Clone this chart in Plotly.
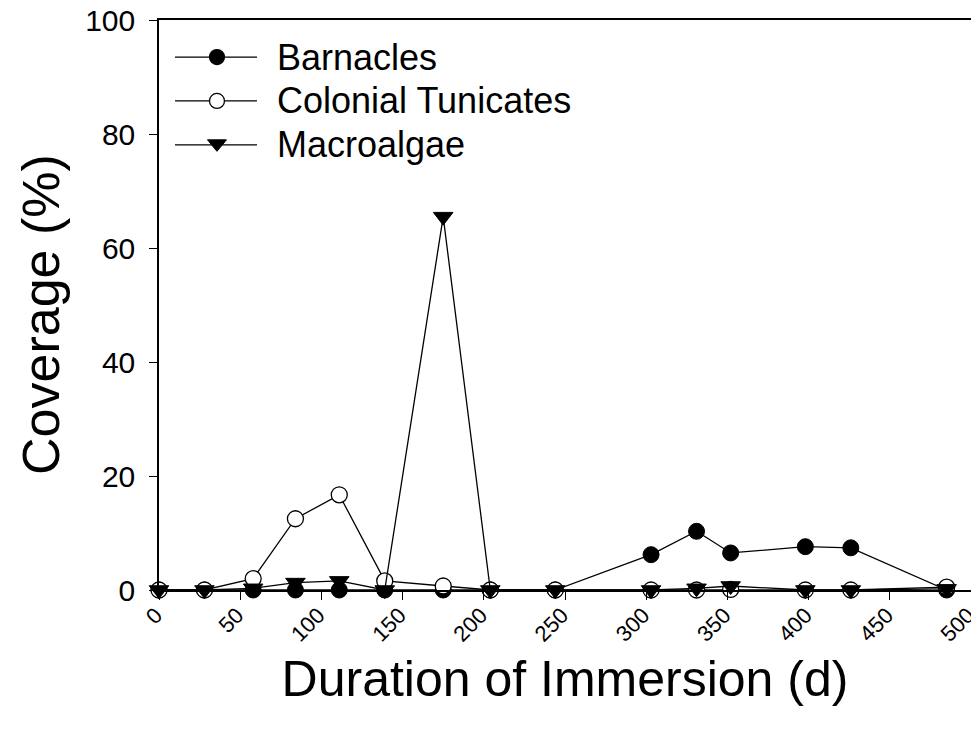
import plotly.graph_objects as go

days = [0, 28, 58, 84, 111, 139, 175, 204, 244, 303, 331, 352, 398, 426, 485]
barnacles = [0, 0, 0, 0, 0, 0, 0, 0, 0, 6.2, 10.3, 6.5, 7.6, 7.4, 0]
tunicates = [0, 0, 2.0, 12.5, 16.7, 1.6, 0.7, 0, 0, 0, 0, 0.1, 0, 0, 0.5]
macroalgae = [0, 0, 0.3, 1.3, 1.6, 0, 65.5, 0, 0, 0, 0.3, 0.7, 0, 0, 0.2]

series_names = ["Barnacles", "Colonial Tunicates", "Macroalgae"]

x_ticks = list(range(0, 501, 50))
y_ticks = list(range(0, 101, 20))

FONT = "Liberation Sans, Arial, sans-serif"

fig = go.Figure()
fig.add_trace(go.Scatter(
    x=days, y=barnacles, name=series_names[0], mode="lines+markers",
    line=dict(color="black", width=1.3),
    marker=dict(symbol="circle", size=16, color="black", line=dict(color="black", width=1)),
    cliponaxis=False))
fig.add_trace(go.Scatter(
    x=days, y=tunicates, name=series_names[1], mode="lines+markers",
    line=dict(color="black", width=1.3),
    marker=dict(symbol="circle", size=16, color="white", line=dict(color="black", width=1.3)),
    cliponaxis=False))
fig.add_trace(go.Scatter(
    x=days, y=macroalgae, name=series_names[2], mode="lines+markers",
    line=dict(color="black", width=1.3),
    marker=dict(symbol="triangle-down", size=17, color="black", line=dict(color="black", width=1)),
    cliponaxis=False))

# Manual legend (layout elements in paper coordinates)
shapes = []
annotations = []
rows_y = [0.935, 0.858, 0.781]
lx0, lx1, lmx, ltx = 0.0197, 0.1207, 0.0714, 0.1429
for i, (name, ry) in enumerate(zip(series_names, rows_y)):
    shapes.append(dict(type="line", xref="paper", yref="paper", x0=lx0, x1=lx1, y0=ry, y1=ry,
                       line=dict(color="black", width=1.3)))
    if i < 2:
        shapes.append(dict(type="circle", xref="paper", yref="paper",
                           xsizemode="pixel", ysizemode="pixel", xanchor=lmx, yanchor=ry,
                           x0=-7.5, x1=7.5, y0=-7.5, y1=7.5,
                           fillcolor="black" if i == 0 else "white",
                           line=dict(color="black", width=1.3)))
    else:
        shapes.append(dict(type="path", xref="paper", yref="paper",
                           xsizemode="pixel", ysizemode="pixel", xanchor=lmx, yanchor=ry,
                           path="M-9.5,5 L9.5,5 L0,-6.5 Z",
                           fillcolor="black", line=dict(color="black", width=1)))
    annotations.append(dict(text=name, xref="paper", yref="paper", x=ltx, y=ry,
                            xanchor="left", yanchor="middle", showarrow=False,
                            font=dict(size=36, family=FONT, color="black")))

# Y-axis title as a rotated annotation (placed slightly below the plot's middle, as in the source)
annotations.append(dict(text="Coverage (%)", xref="paper", yref="paper", x=-0.1453, y=0.4825,
                        xanchor="center", yanchor="middle", textangle=-90, showarrow=False,
                        font=dict(size=52, family=FONT, color="black")))

# The page body adds an 8px offset, so margins are set relative to that.
fig.update_layout(
    width=979, height=730,
    margin=dict(l=151, r=16, t=12, b=148),
    paper_bgcolor="white", plot_bgcolor="white",
    font=dict(family=FONT, color="black"),
    showlegend=False,
    shapes=shapes, annotations=annotations,
    xaxis=dict(range=[0, 500], tickvals=x_ticks, ticktext=[str(v) for v in x_ticks],
               tickangle=-45, tickfont=dict(size=22, family=FONT),
               ticks="outside", ticklen=8, tickwidth=1.3, tickcolor="black",
               showline=True, linecolor="black", linewidth=1.5, mirror=True,
               showgrid=False, zeroline=False, automargin=False, ticklabeloverflow="allow",
               ticklabelstandoff=-6, ticklabelshift=-3,
               title=dict(text="Duration of Immersion (d)", font=dict(size=50, family=FONT), standoff=16)),
    yaxis=dict(range=[0, 100], tickvals=y_ticks,
               tickfont=dict(size=30, family=FONT),
               ticks="outside", ticklen=8, tickwidth=1.3, tickcolor="black",
               showline=True, linecolor="black", linewidth=1.5, mirror=True,
               showgrid=False, zeroline=False, automargin=False, ticklabelstandoff=8,
               ticklabeloverflow="allow"),
)

fig.write_html("out.html")
